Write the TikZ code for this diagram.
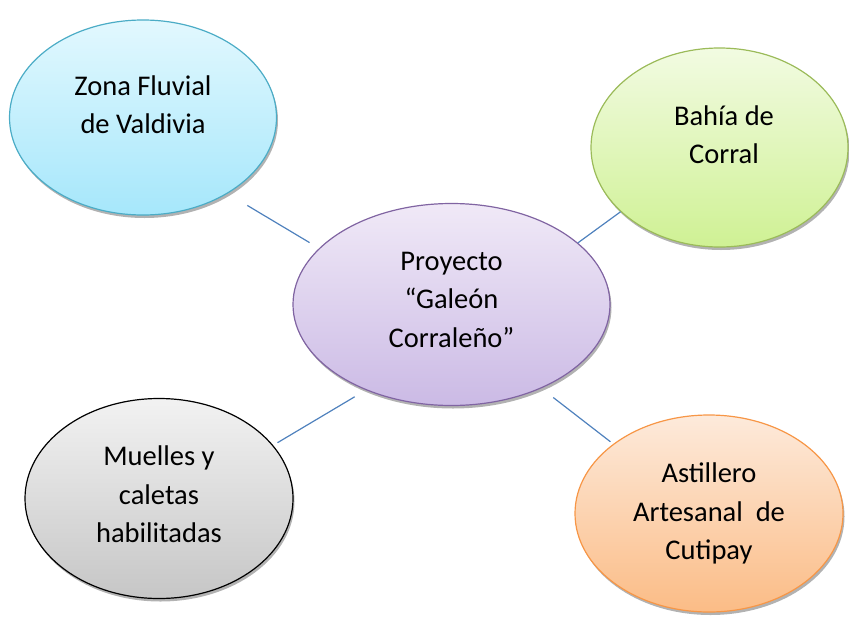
\documentclass[tikz,border=0pt]{standalone}
\usepackage{fontspec}
\setmainfont{Carlito}
\usetikzlibrary{shapes.geometric,shadows}

\definecolor{enlacecol}{HTML}{4F81BD}
\definecolor{zonaborde}{HTML}{4BACC6}
\definecolor{zonaarriba}{HTML}{E2F8FE}
\definecolor{zonaabajo}{HTML}{A6E7FB}
\definecolor{bahiaborde}{HTML}{9BBB59}
\definecolor{bahiaarriba}{HTML}{F2FBE2}
\definecolor{bahiaabajo}{HTML}{CFF194}
\definecolor{centroborde}{HTML}{8064A2}
\definecolor{centroarriba}{HTML}{F0E9F7}
\definecolor{centroabajo}{HTML}{CBBAE5}
\definecolor{muellesarriba}{HTML}{F2F2F2}
\definecolor{muellesabajo}{HTML}{C6C6C6}
\definecolor{astilleroborde}{HTML}{F79646}
\definecolor{astilleroarriba}{HTML}{FDEADB}
\definecolor{astilleroabajo}{HTML}{FBBC86}

\tikzset{
  burbuja/.style={ellipse, draw, line width=1.2pt, inner sep=0pt,
    drop shadow={shadow xshift=1.5pt, shadow yshift=-3pt, fill=black!55, opacity=0.55}},
  rotulo/.style={align=center, inner sep=0pt, font=\fontsize{28.5}{38.5}\selectfont},
  enlace/.style={draw=enlacecol, line width=1.2pt},
}

\begin{document}
\begin{tikzpicture}[x=1pt,y=-1pt]
  \useasboundingbox (0,0) rectangle (849,616);

  % burbujas
  \node[burbuja, draw=zonaborde, top color=zonaarriba, bottom color=zonaabajo,
        minimum width=267pt, minimum height=195pt] (zona) at (143,117.5) {};
  \node[burbuja, draw=bahiaborde, top color=bahiaarriba, bottom color=bahiaabajo,
        minimum width=257pt, minimum height=199pt] (bahia) at (719.5,147.5) {};
  \node[burbuja, draw=centroborde, top color=centroarriba, bottom color=centroabajo,
        minimum width=317pt, minimum height=202pt] (centro) at (451.5,304.5) {};
  \node[burbuja, draw=black, top color=muellesarriba, bottom color=muellesabajo,
        minimum width=268pt, minimum height=200pt] (muelles) at (159,498.5) {};
  \node[burbuja, draw=astilleroborde, top color=astilleroarriba, bottom color=astilleroabajo,
        minimum width=268pt, minimum height=197pt] (astillero) at (709,513.5) {};

  % textos
  \node[rotulo] (zonatxt) at ([yshift=13pt]zona.center) {Zona Fluvial\\de Valdivia};
  \node[rotulo] (bahiatxt) at ([xshift=4.5pt,yshift=13pt]bahia.center) {Bahía de\\Corral};
  \node[rotulo] (centrotxt) at ([yshift=5pt]centro.center) {Proyecto\\“Galeón\\Corraleño”};
  \node[rotulo] (muellestxt) at ([yshift=4pt]muelles.center) {Muelles y\\caletas\\habilitadas};
  \node[rotulo] (astillerotxt) at ([yshift=0pt]astillero.center) {Astillero\\Artesanal~ de\\Cutipay};

  % enlaces
  \draw[enlace, shorten <=23pt, shorten >=11pt] (zona.-42) -- (centro.157);
  \draw[enlace] (centro.26) -- (bahia.-147);
  \draw[enlace, shorten <=5pt, shorten >=13pt] (muelles.25) -- (centro.-135.5);
  \draw[enlace, shorten <=15pt, shorten >=3.5pt] (centro.-43) -- (astillero.144);
\end{tikzpicture}
\end{document}
